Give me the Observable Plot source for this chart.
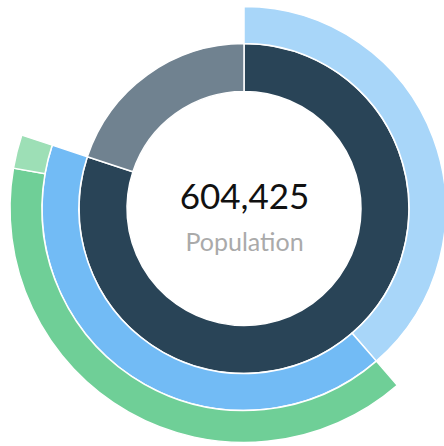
<!DOCTYPE html>
<html>
<head>
<meta charset="utf-8">
<script src="https://cdn.jsdelivr.net/npm/d3@7"></script>
<script src="https://cdn.jsdelivr.net/npm/@observablehq/plot@0.6"></script>
<style>
  html, body { margin: 0; padding: 0; background: #fff; overflow: hidden; }
</style>
</head>
<body>
<div id="chart"></div>
<script>
// Hierarchical population breakdown (sunburst rings)
const segmentNames = ["A", "B", "A1", "A2", "A2a", "A2b"];
const segmentParents = [null, null, "A", "A", "A2", "A2"];
const segmentLevels = [0, 0, 1, 1, 2, 2];
const segmentValues = [484000, 120425, 233500, 250500, 236500, 14000];
const segmentColors = ["#294457", "#708290", "#a8d6f9", "#72bbf5", "#6fcf97", "#9ddfb6"];
const totalValue = 604425;
const centerLabel = "Population";
const ringRadii = [117, 165, 202, 234];

// compute start/end from the hierarchy
const rows = segmentNames.map((name, i) => ({name, parent: segmentParents[i], level: segmentLevels[i], value: segmentValues[i]}));
const byName = new Map(rows.map(r => [r.name, r]));
const offsets = new Map();
for (const r of rows) {
  const base = r.parent == null ? 0 : byName.get(r.parent).start;
  const key = r.parent == null ? "__root" : r.parent;
  const used = offsets.get(key) || 0;
  r.start = base + used;
  r.end = r.start + r.value;
  offsets.set(key, used + r.value);
}

const W = 444, H = 446;
const chart = Plot.plot({
  width: W,
  height: H,
  marginLeft: 44,
  marginRight: 0,
  marginTop: 0,
  marginBottom: 29,
  style: {fontFamily: "Lato, sans-serif", background: "white"},
  x: {domain: [0, totalValue], range: [0, 2 * Math.PI], axis: null},
  y: {type: "identity", axis: null},
  color: {domain: segmentNames, range: segmentColors},
  marks: [
    Plot.rect(rows, {
      x1: "start",
      x2: "end",
      y1: d => ringRadii[d.level],
      y2: d => ringRadii[d.level + 1],
      fill: "name",
      render(index, scales, values, dimensions) {
        const cx = dimensions.marginLeft + (dimensions.width - dimensions.marginLeft - dimensions.marginRight) / 2;
        const cy = dimensions.marginTop + (dimensions.height - dimensions.marginTop - dimensions.marginBottom) / 2;
        const arc = d3.arc();
        const g = d3.create("svg:g").attr("transform", `translate(${cx},${cy})`);
        g.selectAll("path")
          .data(index)
          .join("path")
          .attr("d", i => arc({
            innerRadius: values.y1[i],
            outerRadius: values.y2[i],
            startAngle: values.x1[i],
            endAngle: values.x2[i]
          }))
          .attr("fill", i => values.fill[i])
          .attr("stroke", "white")
          .attr("stroke-width", 1.5)
          .attr("stroke-linejoin", "miter");
        return g.node();
      }
    }),
    Plot.text([totalValue], {
      text: d => d3.format(",")(d),
      frameAnchor: "middle",
      lineAnchor: "bottom",
      dy: 0,
      fontSize: 35,
      fill: "#111"
    }),
    Plot.text([centerLabel], {
      text: d => d,
      frameAnchor: "middle",
      lineAnchor: "bottom",
      dy: 42,
      fontSize: 25,
      fill: "#aaaaaa"
    })
  ]
});
document.getElementById("chart").appendChild(chart);
</script>
</body>
</html>
